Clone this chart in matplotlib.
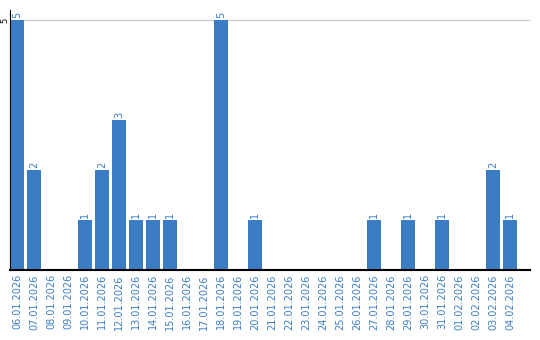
import matplotlib.pyplot as plt
import pandas as pd

# Daily counts
dates = pd.date_range("2026-01-06", "2026-02-04", freq="D").strftime("%d.%m.%Y").tolist()
counts = [5, 2, 0, 0, 1, 2, 3, 1, 1, 1, 0, 0, 5, 0, 1,
          0, 0, 0, 0, 0, 0, 1, 0, 1, 0, 1, 0, 0, 2, 1]

blue = "#3b7dc4"

fig = plt.figure(figsize=(5.4, 3.4), dpi=100)
ax = fig.add_axes([10 / 540, 70 / 340, 520 / 540, 260 / 340])

x = range(len(dates))
bars = ax.bar(x, counts, width=0.82, color=blue, zorder=2)

for xi, v in zip(x, counts):
    if v > 0:
        ax.text(xi, v + 0.04, str(v), rotation=90, ha="center", va="bottom",
                fontsize=7, color=blue)

ax.set_xlim(-0.41, 30.18)
ax.set_ylim(0, 5.2)
ax.set_yticks([5])
ax.set_yticklabels(["5"], rotation=90, va="center", fontsize=6)
ax.tick_params(axis="y", length=0, pad=0.5)
ax.yaxis.grid(True, color="#cccccc", linewidth=1, zorder=0)

ax.set_xticks(list(x))
ax.set_xticklabels(dates, rotation=90, fontsize=7, color=blue)
ax.tick_params(axis="x", length=0, pad=3)

ax.spines["top"].set_visible(False)
ax.spines["right"].set_visible(False)
ax.spines["left"].set_color("black")
ax.spines["bottom"].set_color("black")
ax.spines["bottom"].set_linewidth(1.5)

plt.savefig("out.png", dpi=100)
